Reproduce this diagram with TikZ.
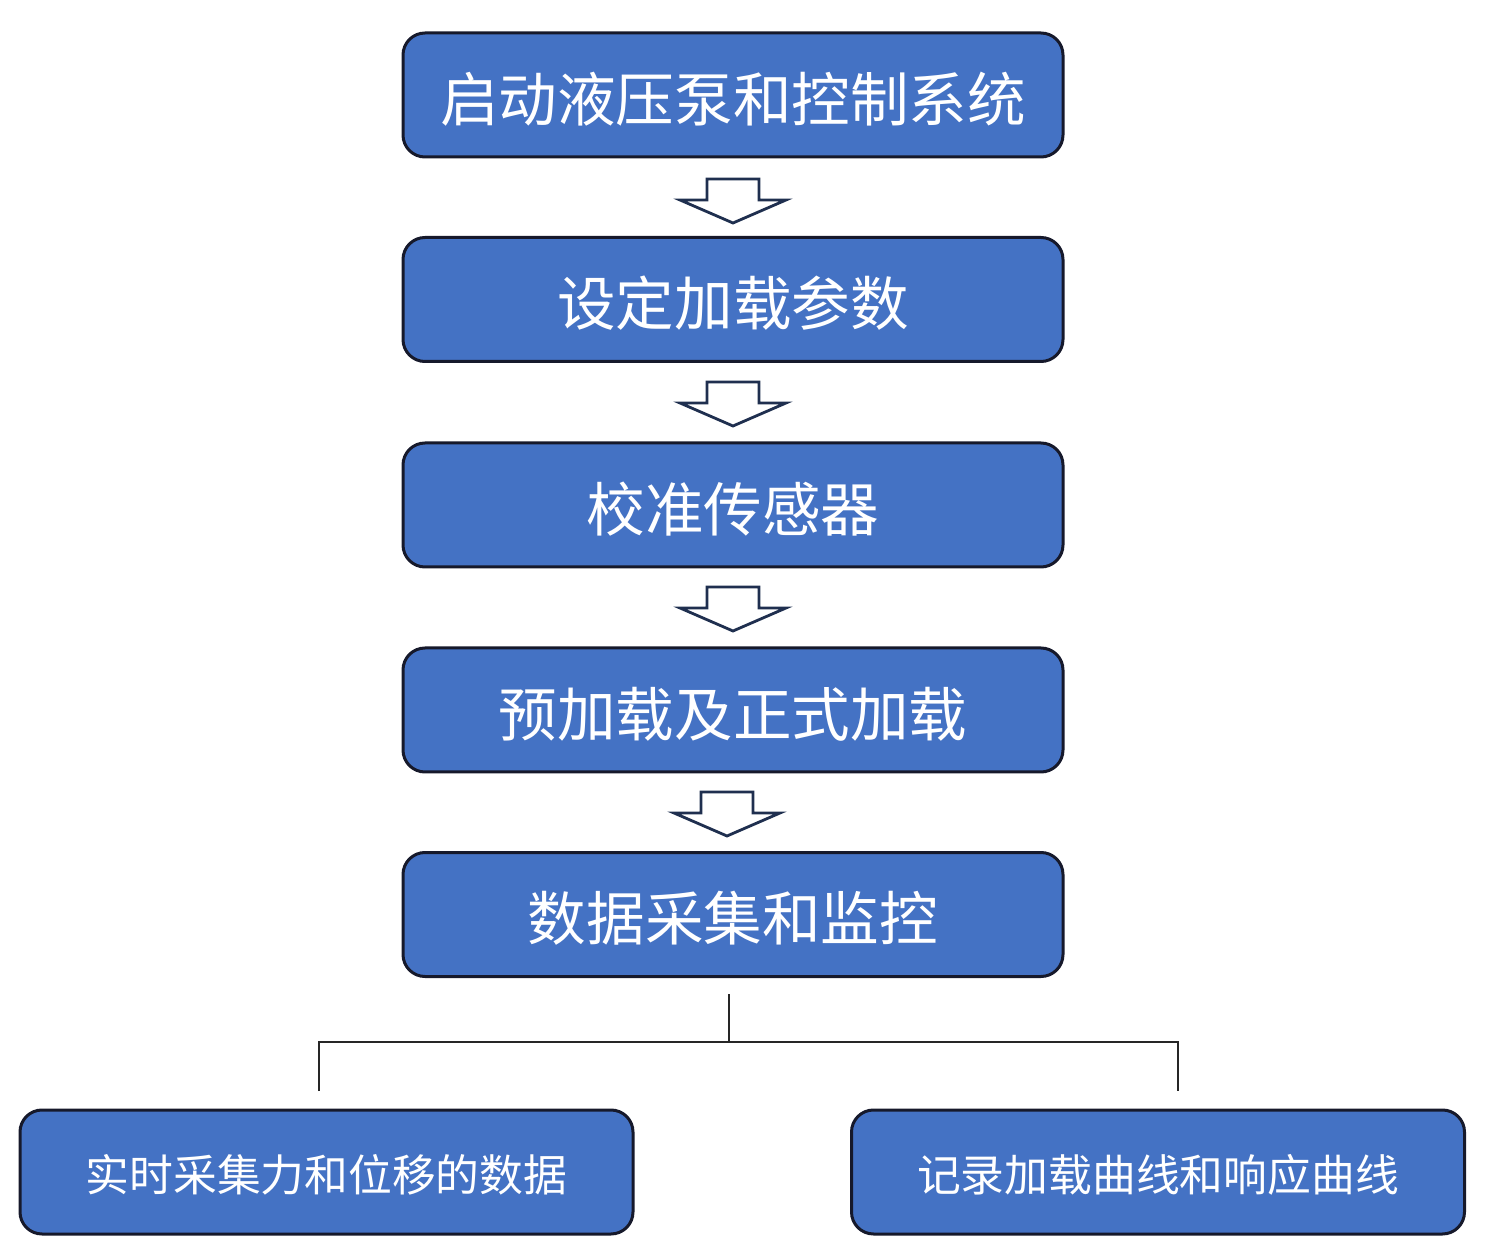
\documentclass[tikz,border=0pt]{standalone}
\usepackage{fontspec}
\newfontfamily\cjk{Noto Sans CJK SC}
\definecolor{boxblue}{HTML}{4472C4}
\definecolor{boxline}{HTML}{16192B}
\definecolor{arrline}{HTML}{1F2F4F}
\begin{document}
\begin{tikzpicture}[x=0.5pt,y=-0.5pt,
  stepbox/.style={draw=boxline, line width=1.5pt, fill=boxblue, rounded corners=11pt,
    minimum width=330pt, minimum height=62pt, inner sep=0pt, text=white,
    text depth=0pt, font=\cjk\fontsize{29.3pt}{30pt}\selectfont},
  subbox/.style={stepbox, minimum width=306.5pt, font=\cjk\fontsize{21.9pt}{24pt}\selectfont},
  blockarr/.style={draw=arrline, line width=1.4pt, fill=white, line join=miter},
  link/.style={draw=black!85, line width=0.9pt}]
\useasboundingbox (0,0) rectangle (1501,1251);
\node[stepbox] (b1) at (733,95) {\raisebox{-1.5pt}{启动液压泵和控制系统}};
\node[stepbox] (b2) at (733,299.5) {\raisebox{-1.5pt}{设定加载参数}};
\node[stepbox] (b3) at (733,505) {\raisebox{-1.5pt}{校准传感器}};
\node[stepbox] (b4) at (733,710) {\raisebox{-1.5pt}{预加载及正式加载}};
\node[stepbox] (b5) at (733,914.5) {\raisebox{-1.5pt}{数据采集和监控}};
\node[subbox] (l) at (326.5,1172) {\raisebox{-1pt}{实时采集力和位移的数据}};
\node[subbox] (r) at (1158,1172) {\raisebox{-1pt}{记录加载曲线和响应曲线}};
% block arrows
\newcommand\blockarrow[2]{%
  \draw[blockarr] (#1-26,#2) -- (#1+26,#2) -- (#1+26,#2+21) -- (#1+53,#2+21) -- (#1,#2+44)
    -- (#1-53,#2+21) -- (#1-26,#2+21) -- cycle;}
\blockarrow{733}{179}
\blockarrow{733}{382}
\blockarrow{733}{587}
\blockarrow{727}{792}
% tree connector
\coordinate (t0) at (729,994);
\coordinate (tj) at (729,1042);
\coordinate (tl) at (319,1042);
\coordinate (tr) at (1178,1042);
\coordinate (tle) at (319,1091);
\coordinate (tre) at (1178,1091);
\draw[link] (t0) -- (tj);
\draw[link] (tle) -- (tl) -- (tr) -- (tre);
\end{tikzpicture}
\end{document}
